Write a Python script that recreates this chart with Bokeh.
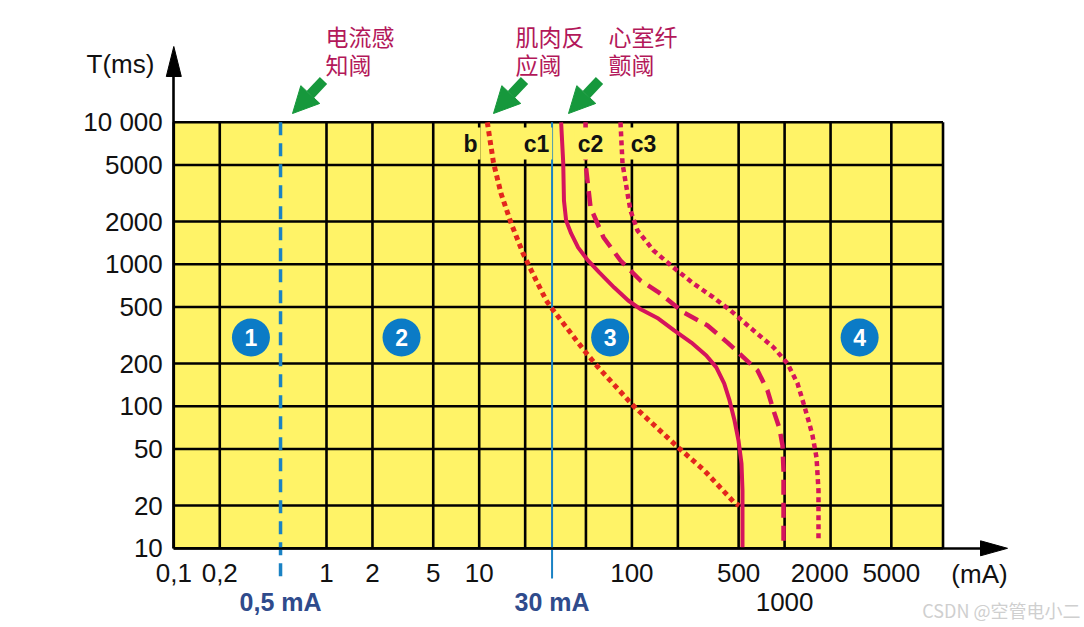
from bokeh.plotting import figure
from bokeh.models import Range1d, FixedTicker, Label, Arrow, NormalHead
from bokeh.core.properties import value
from bokeh.embed import file_html
from bokeh.resources import INLINE

# ---------------- data ----------------
x_ticks = [0.1, 0.2, 1.0, 2.0, 5.0, 10.0, 100.0, 500.0, 2000.0, 5000.0]
x_tick_labels = ["0,1", "0,2", "1", "2", "5", "10", "100", "500", "2000\u00a0\u00a0\u00a0", "5000"]
y_ticks = [10.0, 20.0, 50.0, 100.0, 200.0, 500.0, 1000.0, 2000.0, 5000.0, 10000.0]
y_tick_labels = ["10", "20", "50", "100", "200", "500", "1000", "2000", "5000", "10 000"]
grid_x = [0.1, 0.2, 1, 2, 5, 10, 20, 50, 100, 200, 500, 1000, 2000, 5000, 10900]
grid_y = [10, 20, 50, 100, 200, 500, 1000, 2000, 5000, 10000]

perception_mA = 0.5
rcd_mA = 30

b_x = [11.3, 12.4, 13.9, 16.2, 19.4, 23.6, 27.5, 29.6, 48.7, 60.2, 102, 201, 298, 468, 504]
b_y = [10000, 5200, 3150, 1940, 1190, 770, 556, 496, 247, 188, 101, 51.3, 35.3, 21, 20]

c1_x = [34.4, 35.5, 35.9, 37.1, 40.0, 44.5, 51.7, 61.1, 76.6, 94.6, 115, 149, 189, 245, 307,
        357, 402, 436, 470, 499, 522, 530, 530]
c1_y = [10000, 5200, 2810, 2030, 1650, 1310, 1060, 876, 686, 556, 480, 415, 342, 281, 228,
        188, 145, 110, 79.4, 57.4, 39.6, 25.5, 10]

c2_x = [49.7, 49.7, 53.6, 65.2, 84.2, 113.8, 147, 218, 313, 423, 538, 665, 773, 846, 926, 969, 984, 984]
c2_y = [10000, 5130, 2510, 1545, 1063, 769, 643, 458, 371, 281, 221, 179, 129, 93.4, 69.8, 53, 35.3, 10]

c3_x = [84.2, 86.8, 93.6, 97.9, 108.8, 138.5, 187, 253, 342, 442, 626, 846, 1045, 1215, 1330, 1434,
        1523, 1618, 1667, 1667]
c3_y = [10000, 5130, 3150, 2392, 1730, 1251, 950, 732, 584, 473, 342, 260, 200, 145, 105, 79.4,
        62.3, 43.6, 25.5, 11.4]

zone_labels = ["1", "2", "3", "4"]
zone_x = [0.32, 3.1, 72, 3100]
zone_y = [305, 305, 305, 305]

curve_names = ["b", "c1", "c2", "c3"]

# ---------------- layout (pixel calibration of the log axes) ----------------
W, H = 1084, 627
CX, SX = 326.0, 152.7   # x pixel of 1 mA, pixels per decade
CY, SY = 689.8, 142.0   # y pixel of 1 ms, pixels per decade


def dx(px):
    return 10 ** ((px - CX) / SX)


def dy(py):
    return 10 ** ((CY - py) / SY)


YELLOW = "#fff367"
BLUE_LINE = "#1a82c4"
NAVY = "#2f4b8c"
RED = "#e3261d"
MAGENTA = "#d5145c"
CN_COLOR = "#b3185a"
GREEN = "#16983c"
FONT = "Liberation Sans"
CJK = "Noto Sans CJK SC"
X0, Y0 = grid_x[0], grid_y[0]

p = figure(frame_width=W, frame_height=H,
           x_axis_type="log", y_axis_type="log",
           x_range=Range1d(dx(0), dx(W)), y_range=Range1d(dy(H), dy(0)),
           min_border_left=0, min_border_right=0, min_border_top=0, min_border_bottom=0,
           output_backend="svg", toolbar_location=None,
           outline_line_color=None,
           background_fill_color="white", border_fill_color="white")
p.xgrid.visible = False
p.ygrid.visible = False

X_HEAD_BASE = dx(980)
Y_HEAD_BASE = dy(76)

for ax, ticks, labels in ((p.xaxis[0], x_ticks, x_tick_labels), (p.yaxis[0], y_ticks, y_tick_labels)):
    ax.ticker = FixedTicker(ticks=ticks)
    ax.major_label_overrides = {t: l for t, l in zip(ticks, labels)}
    ax.axis_line_color = "black"
    ax.axis_line_width = 2.6
    ax.major_tick_line_color = None
    ax.minor_tick_line_color = None
    ax.major_tick_out = 0
    ax.major_tick_in = 0
    ax.major_label_text_font = FONT
    ax.major_label_text_font_size = "26px"
    ax.major_label_text_color = "#111111"
p.xaxis.fixed_location = Y0
p.yaxis.fixed_location = X0
p.xaxis.bounds = (X0, X_HEAD_BASE)
p.yaxis.bounds = (Y0, Y_HEAD_BASE)
p.xaxis.major_label_standoff = 10
p.yaxis.major_label_standoff = 11

# yellow chart area
p.quad(left=[grid_x[0]], right=[grid_x[-1]], bottom=[grid_y[0]], top=[grid_y[-1]],
       fill_color=YELLOW, line_color=None, level="image")

# grid
p.segment(x0=grid_x, y0=[grid_y[0]] * len(grid_x), x1=grid_x, y1=[grid_y[-1]] * len(grid_x),
          line_color="black", line_width=2.6)
p.segment(x0=[grid_x[0]] * len(grid_y), y0=grid_y, x1=[grid_x[-1]] * len(grid_y), y1=grid_y,
          line_color="black", line_width=2.6)

# threshold lines (extend below the axis)
p.line([perception_mA, perception_mA], [grid_y[-1], dy(581)], line_color=BLUE_LINE,
       line_width=3.5, line_dash="13 8")
p.line([rcd_mA, rcd_mA], [grid_y[-1], dy(578)], line_color=BLUE_LINE, line_width=2)

# curves
p.line(b_x, b_y, line_color=RED, line_width=5, line_dash="5 4")
p.line(c1_x, c1_y, line_color=MAGENTA, line_width=4, line_join="round")
p.line(c2_x, c2_y, line_color=MAGENTA, line_width=4.5, line_dash="15 8", line_join="round")
p.line(c3_x, c3_y, line_color=MAGENTA, line_width=4.5, line_dash="5 4")

# zone markers
p.scatter(zone_x, zone_y, size=38, marker="circle", fill_color="#0b7bc6", line_color=None)
p.text(zone_x, zone_y, text=zone_labels, text_color="white", text_font=value(FONT),
       text_font_style="bold", text_font_size="23px", text_align="center", text_baseline="middle")

# arrow heads of the axes (slender triangles)
p.patch([dx(1007), X_HEAD_BASE, X_HEAD_BASE], [Y0, dy(547.8 - 7.5), dy(547.8 + 7.5)],
        fill_color="black", line_color="black", line_width=1)
x0_px = CX - SX
p.patch([X0, dx(x0_px - 7.5), dx(x0_px + 7.5)], [dy(46), Y_HEAD_BASE, Y_HEAD_BASE],
        fill_color="black", line_color="black", line_width=1)

# curve name labels (yellow background hides grid lines)
for name, px in zip(curve_names, [470, 536, 590, 643]):
    p.add_layout(Label(x=dx(px), y=dy(143), text=name, text_font=FONT, text_font_style="bold",
                       text_font_size="23px", text_align="center", text_baseline="middle",
                       background_fill_color=YELLOW, padding=3, text_color="#111111"))

# green pointer arrows
for tip_x in [dx(292), dx(493), dx(568)]:
    p.add_layout(Arrow(x_start=tip_x * 10 ** (31 / SX), y_start=dy(80), x_end=tip_x, y_end=dy(113),
                       line_color=GREEN, line_width=10,
                       end=NormalHead(size=26, fill_color=GREEN, line_color=GREEN)))

# Chinese annotations
cn_texts = [("电流感", "知阈", 325), ("肌肉反", "应阈", 515), ("心室纤", "颤阈", 608)]
for l1, l2, px in cn_texts:
    for txt, py in ((l1, 35), (l2, 63)):
        p.add_layout(Label(x=dx(px), y=dy(py), text=txt, text_font=CJK, text_font_size="23px",
                           text_color=CN_COLOR, text_align="left", text_baseline="middle"))

# axis titles and extra labels
p.add_layout(Label(x=dx(120), y=dy(63), text="T(ms)", text_font=FONT, text_font_size="26px",
                   text_align="center", text_baseline="middle", text_color="#111111"))
p.add_layout(Label(x=dx(979), y=dy(573), text="(mA)", text_font=FONT, text_font_size="26px",
                   text_align="center", text_baseline="middle", text_color="#111111"))
p.add_layout(Label(x=1000, y=dy(601), text="1000", text_font=FONT, text_font_size="26px",
                   text_align="center", text_baseline="middle", text_color="#111111"))
p.add_layout(Label(x=perception_mA, y=dy(601), text="0,5 mA", text_font=FONT, text_font_size="25px",
                   text_font_style="bold", text_align="center", text_baseline="middle", text_color=NAVY))
p.add_layout(Label(x=rcd_mA, y=dy(601), text="30 mA", text_font=FONT, text_font_size="25px",
                   text_font_style="bold", text_align="center", text_baseline="middle", text_color=NAVY))

# watermark
p.add_layout(Label(x=dx(1080), y=dy(609), text="CSDN @空管电小二", text_font=CJK, text_font_size="18px",
                   text_align="right", text_baseline="middle", text_color="#cfcfcf"))

open("out.html", "w").write(file_html(p, INLINE))
